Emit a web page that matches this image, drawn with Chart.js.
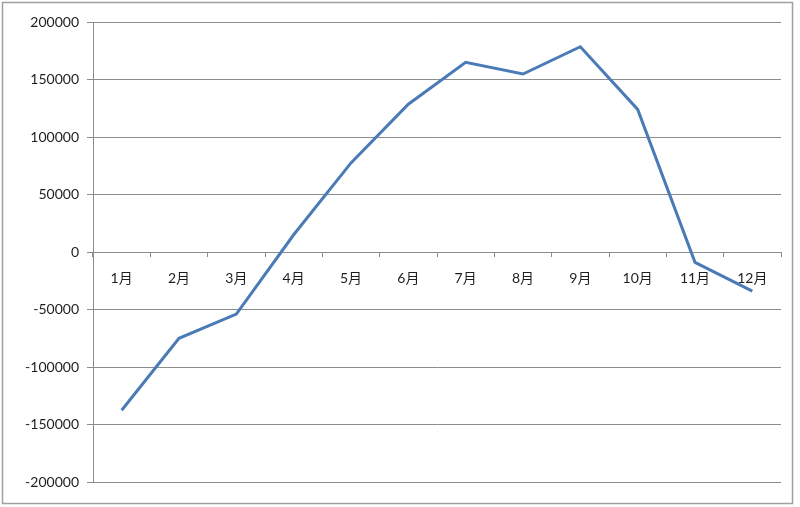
<!DOCTYPE html>
<html>
<head>
<meta charset="utf-8">
<script src="https://cdn.jsdelivr.net/npm/chart.js@4"></script>
<style>
  html, body { margin: 0; padding: 0; background: #ffffff; }
  #wrap { width: 800px; height: 507px; position: relative; }
</style>
</head>
<body>
<div id="wrap"><canvas id="c" width="800" height="507"></canvas></div>
<script>
const categories = ['1月', '2月', '3月', '4月', '5月', '6月', '7月', '8月', '9月', '10月', '11月', '12月'];
const seriesValues = [-137600, -75000, -54000, 15000, 77500, 128500, 165000, 154800, 178500, 124000, -9000, -34000];
const yMin = -200000;
const yMax = 200000;
const yStep = 50000;

const FONT = { family: "Lato, 'Noto Sans CJK SC', sans-serif", size: 14 };
const GRID = '#8c8c8c';
const TEXT = '#1e1e1e';

const frame = {
  id: 'frame',
  beforeDraw(chart) {
    const ctx = chart.ctx;
    ctx.save();
    ctx.fillStyle = '#ffffff';
    ctx.fillRect(0, 0, chart.width, chart.height);
    ctx.restore();
  },
  afterDraw(chart) {
    const ctx = chart.ctx;
    ctx.save();
    ctx.strokeStyle = '#a0a0a0';
    ctx.lineWidth = 1.5;
    ctx.strokeRect(2.5, 2.5, 790, 501);
    ctx.restore();
  }
};

new Chart(document.getElementById('c'), {
  type: 'line',
  data: {
    labels: categories,
    datasets: [{
      data: seriesValues,
      borderColor: '#4a7bb7',
      borderWidth: 3,
      pointRadius: 0,
      tension: 0,
      fill: false
    }]
  },
  options: {
    responsive: false,
    animation: false,
    devicePixelRatio: 1,
    layout: { padding: { top: 22, right: 19, bottom: 25, left: 0 } },
    plugins: { legend: { display: false }, tooltip: { enabled: false } },
    scales: {
      x: {
        type: 'category',
        position: { y: 0 },
        offset: true,
        grid: { drawOnChartArea: false, drawTicks: true, tickLength: 4, color: GRID, offset: true },
        border: { display: true, color: GRID, width: 1 },
        ticks: { padding: 14, font: FONT, color: TEXT, autoSkip: false, maxRotation: 0 }
      },
      y: {
        min: yMin,
        max: yMax,
        afterFit(scale) { scale.width = 93; },
        grid: { color: GRID, tickLength: 6, lineWidth: 1 },
        border: { display: true, color: GRID, width: 1 },
        ticks: { stepSize: yStep, padding: 8, font: FONT, color: TEXT, callback: (v) => String(v) }
      }
    }
  },
  plugins: [frame]
});
</script>
</body>
</html>
